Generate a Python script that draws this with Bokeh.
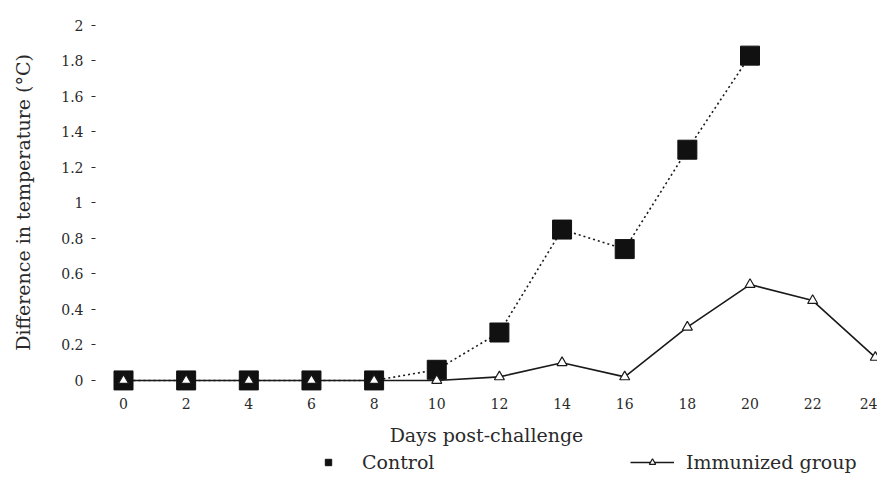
from bokeh.plotting import figure
from bokeh.layouts import column
from bokeh.models import FixedTicker, NumeralTickFormatter, Legend, LegendItem, Range1d
from bokeh.embed import file_html
from bokeh.resources import INLINE

# ---- data ----
days = [0, 2, 4, 6, 8, 10, 12, 14, 16, 18, 20, 22, 24]
control_days = [0, 2, 4, 6, 8, 10, 12, 14, 16, 18, 20]
control_vals = [0, 0, 0, 0, 0, 0.06, 0.27, 0.85, 0.74, 1.3, 1.83]
immunized_vals = [0, 0, 0, 0, 0, 0, 0.02, 0.1, 0.02, 0.3, 0.54, 0.45, 0.13]
y_ticks = [0, 0.2, 0.4, 0.6, 0.8, 1.0, 1.2, 1.4, 1.6, 1.8, 2.0]
x_ticks = [0, 2, 4, 6, 8, 10, 12, 14, 16, 18, 20, 22, 24]

FONT = "DejaVu Serif"
TXT = "#2a2a2a"
INK = "#1a1a1a"

p = figure(frame_width=782, frame_height=380, output_backend="svg", toolbar_location=None,
           x_range=Range1d(-0.894, 24.07), y_range=Range1d(-0.068, 2.073),
           min_border_left=95, min_border_right=0, min_border_top=12, min_border_bottom=0)
p.grid.visible = False
p.outline_line_color = None
p.background_fill_color = "white"
p.border_fill_color = "white"

# immunized: solid line + small open triangles
imm_line = p.line(days, immunized_vals, line_color=INK, line_width=1.6)
# control: dotted line + filled squares
ctrl_line = p.line(control_days, control_vals, line_color=INK, line_width=1.6, line_dash="2 3")
ctrl_pts = p.scatter(control_days, control_vals, marker="square", size=19,
                     fill_color="#111111", line_color="#111111")
imm_pts = p.scatter(days, immunized_vals, marker="triangle", size=10,
                    fill_color="white", line_color=INK, line_width=1.2)

# axes
p.xaxis.ticker = FixedTicker(ticks=x_ticks)
p.yaxis.ticker = FixedTicker(ticks=y_ticks)
p.yaxis.formatter = NumeralTickFormatter(format="0.[0]")
for ax in (p.xaxis[0], p.yaxis[0]):
    ax.axis_line_color = None
    ax.minor_tick_line_color = None
    ax.major_label_text_font = FONT
    ax.major_label_text_font_size = "14px"
    ax.major_label_text_color = TXT
    ax.axis_label_text_font = FONT
    ax.axis_label_text_font_size = "19px"
    ax.axis_label_text_font_style = "normal"
    ax.axis_label_text_color = TXT

p.xaxis.major_tick_line_color = None
p.xaxis.major_tick_out = 0
p.xaxis.major_label_standoff = 5
p.xaxis.axis_label = "Days post-challenge"
p.xaxis.axis_label_standoff = 12

p.yaxis.major_tick_line_color = TXT
p.yaxis.major_tick_in = 0
p.yaxis.major_tick_out = 4
p.yaxis.major_label_standoff = 8
p.yaxis.axis_label = "Difference in temperature (\u00b0C)"
p.yaxis.axis_label_standoff = 24

# legend strip: a small figure under the chart that only carries the legend
lf = figure(width=877, height=26, output_backend="svg", toolbar_location=None,
            x_range=Range1d(1000, 1001), y_range=Range1d(1000, 1001),
            x_axis_location=None, y_axis_location=None, min_border=0)
lf.grid.visible = False
lf.outline_line_color = None
lf.background_fill_color = "white"
lf.border_fill_color = "white"
lg_ctrl = lf.scatter(control_days, control_vals, marker="square", size=12,
                     fill_color="#111111", line_color="#111111")
lg_line = lf.line(days, immunized_vals, line_color=INK, line_width=1.6)
lg_imm = lf.scatter(days, immunized_vals, marker="triangle", size=9,
                    fill_color="white", line_color=INK, line_width=1.2)

legend = Legend(items=[LegendItem(label="Control", renderers=[lg_ctrl]),
                       LegendItem(label="Immunized group", renderers=[lg_line, lg_imm])],
                orientation="horizontal", location=(211, 1))
legend.label_text_font = FONT
legend.label_text_font_size = "19px"
legend.label_text_color = TXT
legend.glyph_width = 44
legend.glyph_height = 16
legend.label_standoff = 12
legend.label_width = 260
legend.spacing = 8
legend.border_line_color = None
legend.background_fill_alpha = 0
legend.padding = 0
legend.margin = 0
lf.add_layout(legend)

layout = column(p, lf)
open("out.html", "w").write(file_html(layout, INLINE))
